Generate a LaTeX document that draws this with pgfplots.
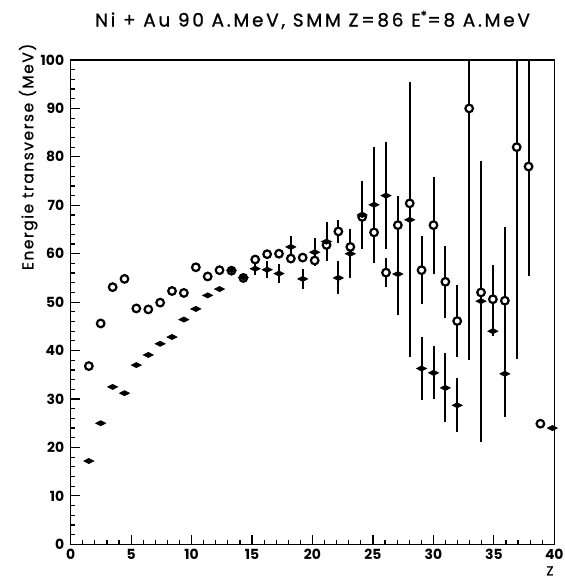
\documentclass[border=0pt]{standalone}
\usepackage{fontspec}
\setmainfont{Poppins}
\newfontfamily\titlefont{Poppins}[LetterSpace=15, FakeBold=1]
\newfontfamily\labelfont{Poppins}[LetterSpace=10, FakeBold=1]
\usepackage{pgfplots}
\pgfplotsset{compat=1.18}
\usepackage{pgfplotstable}

\pgfplotstableread{
x y ey
1.50 36.8 0
2.48 45.6 0
3.47 53.1 0
4.45 54.8 0
5.43 48.7 0
6.42 48.5 0
7.40 49.9 0
8.38 52.3 0
9.36 51.9 0
10.35 57.2 0
11.33 55.3 0
12.31 56.6 0
13.30 56.5 0
14.28 55.0 0
15.26 58.8 0.8
16.25 59.9 0.8
17.23 60.0 0.8
18.21 59.0 0.8
19.19 59.2 1.0
20.18 58.6 1.0
21.16 61.8 1.5
22.14 64.6 2.3
23.13 61.4 2.5
24.11 67.6 3.0
25.09 64.4 3.0
26.08 56.1 3.0
27.06 65.9 6.0
28.04 70.4 4.0
29.02 56.6 7.0
30.01 65.9 10.0
30.99 54.2 7.4
31.97 46.1 7.5
32.96 90.0 52.0
33.94 52.0 5.0
34.92 50.6 7.0
35.91 50.3 15.3
36.89 82.0 43.7
37.87 78.0 22.5
38.85 24.9 0
}\circdata

\pgfplotstableread{
x y ey
1.50 17.2 0
2.48 25.0 0
3.47 32.5 0
4.45 31.2 0
5.43 37.0 0
6.42 39.1 0
7.40 41.4 0
8.38 42.8 0
9.36 46.4 0
10.35 48.6 0
11.33 51.4 0
12.31 52.7 0
13.30 56.6 0.6
14.28 55.1 0.6
15.26 56.9 1.2
16.25 56.7 1.8
17.23 55.9 1.9
18.21 61.4 2.3
19.19 54.8 2.0
20.18 60.3 2.9
21.16 62.5 4.1
22.14 55.0 3.4
23.13 60.0 5.1
24.11 68.0 7.0
25.09 70.1 12.0
26.08 72.0 11.0
27.06 55.8 8.5
28.04 67.0 28.4
29.02 36.3 6.5
30.01 35.4 5.5
30.99 32.3 7.1
31.97 28.7 5.6
33.94 50.2 29.0
34.92 44.0 1.0
35.91 35.2 9.0
39.84 24.0 0
}\crossdata

\begin{document}
\begin{tikzpicture}
\useasboundingbox (0,0) rectangle (565bp,580bp);
\begin{axis}[
  at={(70.7bp,35.7bp)}, anchor=south west,
  scale only axis, width=483.6bp, height=484.3bp,
  xmin=0, xmax=40, ymin=0, ymax=100,
  xtick={0,5,...,40}, ytick={0,10,...,100},
  minor x tick num=4, minor y tick num=4,
  tick align=inside, xtick pos=left, ytick pos=left,
  major tick length=9bp, minor tick length=4bp,
  axis line style={line width=1.2bp},
  tick style={line width=1.2bp, black},
  ticklabel style={font=\fontsize{14}{14}\selectfont\bfseries},
  /pgf/number format/assume math mode=true,
  xticklabel style={yshift=-1bp},
  yticklabel style={xshift=-3bp},
  title={Ni + Au 90 A.MeV, SMM Z=86 E\textsuperscript{*}=8 A.MeV},
  title style={font=\titlefont\fontsize{18.5}{18.5}\selectfont, at={(axis description cs:0.5,1)}, anchor=base, yshift=27.5bp},
  ylabel={Energie transverse (MeV)},
  ylabel style={font=\labelfont\fontsize{15.5}{15.5}\selectfont, at={(axis description cs:-0.088,0.80)}, anchor=center},
  xlabel={Z},
  xlabel style={font=\labelfont\fontsize{13}{13}\selectfont, at={(axis description cs:0.991,0)}, anchor=center, yshift=-26.5bp},
]
\addplot[only marks, mark=*, mark size=3.8bp,
  mark options={fill=white, draw=black, line width=2.2bp},
  error bars/.cd, y dir=both, y explicit, error mark=none,
  error bar style={line width=2bp, black}]
  table[x=x, y=y, y error=ey]{\circdata};
\addplot[only marks, mark=diamond*, mark size=2.6bp,
  mark options={xscale=2.6, fill=black, draw=black, line width=0.6bp},
  error bars/.cd, y dir=both, y explicit, error mark=none,
  error bar style={line width=2bp, black}]
  table[x=x, y=y, y error=ey]{\crossdata};
\end{axis}
\end{tikzpicture}
\end{document}
